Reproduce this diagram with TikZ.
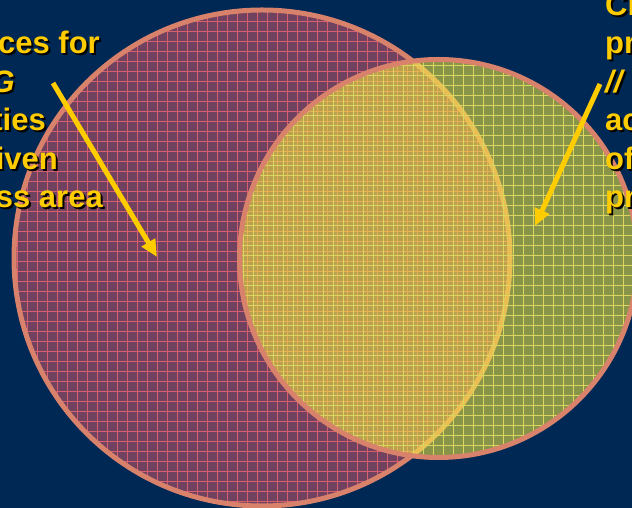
\documentclass[tikz,border=0pt]{standalone}
\usepackage{fontspec}
\setmainfont{Liberation Sans}
\usetikzlibrary{arrows.meta}
\definecolor{Navy}{HTML}{002855}
\definecolor{Salmon}{HTML}{D8826C}
\definecolor{Mauve}{HTML}{70425F}
\definecolor{RoseLine}{HTML}{D8606E}
\definecolor{Lemon}{HTML}{F8F040}
\definecolor{LemonLine}{HTML}{DCD660}
\definecolor{Amber}{HTML}{FFCC00}

\tikzset{
  caption/.style={font=\fontsize{31}{38}\selectfont\bfseries,inner sep=0pt},
  pointer/.style={Amber,line width=5pt,-{Triangle[length=17pt,width=15pt]}}
}

\begin{document}
\begin{tikzpicture}[x=1pt,y=1pt]
\clip (0,0) rectangle (632,508);
\fill[Navy] (0,0) rectangle (632,508);
% left set
\fill[Mauve] (262,250) circle[radius=248];
\begin{scope}
\clip (262,250) circle[radius=248];
\foreach \g in {-3,7,...,637}{
  \draw[RoseLine,line width=.8pt] (\g,0) -- (\g,508);
  \draw[RoseLine,line width=.8pt] (0,\g) -- (632,\g);
}
\end{scope}
\draw[Salmon,line width=5pt] (262,250) circle[radius=248];
% right set
\fill[Lemon,opacity=.55] (438.5,249.5) circle[radius=199];
\begin{scope}
\clip (438.5,249.5) circle[radius=199];
\foreach \g in {3,13,...,643}{
  \draw[LemonLine,line width=.8pt] (\g,0) -- (\g,508);
  \draw[LemonLine,line width=.8pt] (0,\g) -- (632,\g);
}
\end{scope}
\draw[Salmon,line width=5pt] (438.5,249.5) circle[radius=199];
% texts
\foreach \txt/\xx/\yy [count=\i] in {ces for/100/454,\textit{G}/15/415.5,ties/46/377,iven/58/338.5,ss area/103/300}{
  \node[caption,black,anchor=base east] (leftShadow\i) at (\xx+2,\yy-2) {\txt};
  \node[caption,Amber,anchor=base east] (leftLine\i) at (\xx,\yy) {\txt};
}
\foreach \txt/\yy [count=\i] in {Cl/492.5,pr/454,\textit{//}/415.5,ac/377,of/338.5,pr/300}{
  \node[caption,black,anchor=base west] (rightShadow\i) at (607,\yy-2) {\txt};
  \node[caption,Amber,anchor=base west] (rightLine\i) at (605,\yy) {\txt};
}
% pointers
\coordinate (leftTail) at (53,425);
\coordinate (leftTip) at (157,251);
\coordinate (rightTail) at (600,424);
\coordinate (rightTip) at (535,282);
\draw[pointer] (leftTail) -- (leftTip);
\draw[pointer] (rightTail) -- (rightTip);
\end{tikzpicture}
\end{document}
